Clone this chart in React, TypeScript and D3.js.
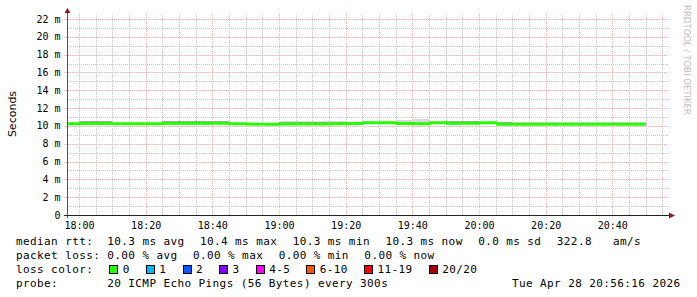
import React from 'react';
import * as d3 from 'd3';

// ---- data ----
const bucketStarts = [
  '17:55', '18:00', '18:05', '18:10', '18:15', '18:20', '18:25', '18:30', '18:35', '18:40',
  '18:45', '18:50', '18:55', '19:00', '19:05', '19:10', '19:15', '19:20', '19:25', '19:30',
  '19:35', '19:40', '19:45', '19:50', '19:55', '20:00', '20:05', '20:10', '20:15', '20:20',
  '20:25', '20:30', '20:35', '20:40', '20:45',
];
const medianMs = [
  10.25, 10.27, 10.27, 10.25, 10.25, 10.25, 10.29, 10.29, 10.29, 10.29,
  10.25, 10.2, 10.2, 10.22, 10.22, 10.22, 10.25, 10.27, 10.36, 10.36,
  10.27, 10.25, 10.36, 10.29, 10.29, 10.36, 10.2, 10.19, 10.19, 10.19,
  10.19, 10.19, 10.19, 10.19, 10.19,
];
const smokeLoMs = [
  10.15, 10.15, 10.15, 10.15, 10.15, 10.15, 10.18, 10.18, 10.18, 10.18,
  10.15, 10.1, 10.1, 10.12, 10.12, 10.12, 10.15, 10.16, 10.25, 10.25,
  10.16, 10.15, 10.25, 10.18, 10.18, 10.25, 10.1, 10.08, 10.08, 10.08,
  10.08, 10.08, 10.08, 10.08, 10.08,
];
const smokeMidMs = [
  10.3, 10.52, 10.52, 10.3, 10.3, 10.3, 10.54, 10.55, 10.52, 10.52,
  10.3, 10.25, 10.25, 10.42, 10.44, 10.44, 10.48, 10.44, 10.44, 10.44,
  10.32, 10.3, 10.44, 10.52, 10.52, 10.44, 10.4, 10.38, 10.38, 10.38,
  10.38, 10.38, 10.38, 10.38, 10.38,
];
const smokeHiMs = [
  10.32, 10.58, 10.58, 10.32, 10.32, 10.32, 10.6, 10.6, 10.57, 10.57,
  10.32, 10.28, 10.28, 10.5, 10.52, 10.52, 10.54, 10.48, 10.48, 10.48,
  10.7, 10.77, 10.46, 10.57, 10.57, 10.46, 10.47, 10.44, 10.44, 10.44,
  10.44, 10.44, 10.44, 10.44, 10.44,
];
const lossPings = new Array(35).fill(0);

const yTickValues = [0, 2, 4, 6, 8, 10, 12, 14, 16, 18, 20, 22];
const xTickLabels = ['18:00', '18:20', '18:40', '19:00', '19:20', '19:40', '20:00', '20:20', '20:40'];
const lossLegendLabels = ['0', '1', '2', '3', '4-5', '6-10', '11-19', '20/20'];
const lossLegendColors = ['#26ff00', '#00b8ff', '#0059ff', '#7e00ff', '#ff00ff', '#ff5500', '#ff0000', '#a10000'];
const lossLegendMin = [0, 1, 2, 3, 4, 6, 11, 20];

const legendRow1 = ['median rtt:  10.3 ms avg', '10.4 ms max', '10.3 ms min', '10.3 ms now', '0.0 ms sd', '322.8   am/s'];
const legendRow2 = ['packet loss: 0.00 % avg', '0.00 % max', '0.00 % min', '0.00 % now'];
const probeLabel = 'probe:';
const probeText = '20 ICMP Echo Pings (56 Bytes) every 300s';
const dateText = 'Tue Apr 28 20:56:16 2026';

// ---- layout ----
const W = 697, H = 297;
const L = 67, R = 667, B = 215, T = 15;
const CH = 7.02; // char advance
const GAP = 15.5;
const COL = 16 + 13 * CH;
const MONO = '"DejaVu Sans Mono", monospace';

const toMin = (s: string) => { const [h, m] = s.split(':').map(Number); return h * 60 + m; };

const x = d3.scaleLinear().domain([17 * 60 + 56.4, 20 * 60 + 56.4]).range([L, R]);
const y = d3.scaleLinear().domain([0, 22.45]).range([B, T]);

function lossColor(p: number) {
  let c = lossLegendColors[0];
  lossLegendMin.forEach((m, i) => { if (p >= m) c = lossLegendColors[i]; });
  return c;
}

export default function App() {
  const minorY = d3.range(1, 23).filter((v) => v % 2 !== 0);
  const majorY = yTickValues.filter((v) => v > 0);
  const minorX = d3.range(toMin('18:05'), 21 * 60, 5).filter((m) => (m - toMin('18:00')) % 20 !== 0 && x(m) <= R);
  const majorX = xTickLabels.map(toMin);

  const buckets = bucketStarts.map((s, i) => {
    const a = Math.max(toMin(s), x.domain()[0]);
    const b = toMin(s) + 5;
    return { x0: x(a), x1: x(b), med: medianMs[i], lo: smokeLoMs[i], mid: smokeMidMs[i], hi: smokeHiMs[i], loss: lossPings[i] };
  });

  const linePts: [number, number][] = [];
  buckets.forEach((b) => { linePts.push([b.x0, y(b.med)]); linePts.push([b.x1, y(b.med)]); });
  const lineGen = d3.line();

  const row1X: number[] = [];
  let cx = 16;
  legendRow1.forEach((t) => { row1X.push(cx); cx += t.length * CH + GAP; });
  const row2X: number[] = [];
  cx = 16;
  legendRow2.forEach((t) => { row2X.push(cx); cx += t.length * CH + GAP; });
  const row3X: number[] = [];
  cx = COL;
  lossLegendLabels.forEach((t) => { row3X.push(cx); cx += 15.4 + t.length * CH + 14.2; });

  const monoStyle = { fontFamily: MONO, fontSize: 11, letterSpacing: 0.4 } as React.CSSProperties;

  return (
    <svg width={W} height={H} style={{ position: 'absolute', left: 0, top: 0, background: '#fff' }}>
      <rect x={0} y={0} width={W} height={H} fill="#fff" />
      {/* grid */}
      <g shapeRendering="crispEdges">
        {minorY.map((v) => (
          <line key={'hy' + v} x1={L} x2={R + 1} y1={Math.round(y(v)) + 0.5} y2={Math.round(y(v)) + 0.5} stroke="#c8c8c8" strokeDasharray="1 1" />
        ))}
        {minorX.map((m) => (
          <line key={'vx' + m} x1={Math.round(x(m)) + 0.5} x2={Math.round(x(m)) + 0.5} y1={B} y2={T - 2} stroke="#c8c8c8" strokeDasharray="1 1" />
        ))}
        {majorY.map((v) => (
          <line key={'my' + v} x1={L - 3} x2={R + 1} y1={Math.round(y(v)) + 0.5} y2={Math.round(y(v)) + 0.5} stroke="#f3b3b3" strokeDasharray="1 1" />
        ))}
        {majorX.map((m) => (
          <line key={'mx' + m} x1={Math.round(x(m)) + 0.5} x2={Math.round(x(m)) + 0.5} y1={B + 3} y2={T - 2} stroke="#f3b3b3" strokeDasharray="1 1" />
        ))}
      </g>
      {/* smoke */}
      <g shapeRendering="crispEdges">
        {buckets.map((b, i) => (
          <rect key={'so' + i} x={b.x0} width={b.x1 - b.x0} y={y(b.hi)} height={y(b.lo) - y(b.hi)} fill="#d8d8d8" />
        ))}
        {buckets.map((b, i) => (
          <rect key={'si' + i} x={b.x0} width={b.x1 - b.x0} y={y(b.mid)} height={y(b.lo) - y(b.mid)} fill="#a8a8a8" />
        ))}
      </g>
      {/* median line */}
      {buckets.map((b, i) => (
        <path key={'ln' + i} d={lineGen(linePts.slice(i * 2, Math.min(i * 2 + 3, linePts.length))) || ''}
          fill="none" stroke={lossColor(b.loss)} strokeWidth={3} />
      ))}
      {/* axes */}
      <g>
        <line x1={L + 0.5} x2={L + 0.5} y1={B + 3} y2={T - 4} stroke="#555" shapeRendering="crispEdges" />
        <line x1={L - 3} x2={R + 3} y1={B + 0.5} y2={B + 0.5} stroke="#222" shapeRendering="crispEdges" />
        <path d={`M${L - 2.5},${T - 2} L${L + 3.5},${T - 2} L${L + 0.5},${T - 7} Z`} fill="#8b1a1a" />
        <path d={`M${R + 2},${B - 2.5} L${R + 2},${B + 3.5} L${R + 8},${B + 0.5} Z`} fill="#8b1a1a" />
      </g>
      {/* y tick labels */}
      {yTickValues.map((v) => (
        <text key={'yl' + v} x={60.5} y={y(v) + 3.5} textAnchor="end" style={{ fontFamily: MONO, fontSize: 10 }} fill="#000">
          {v === 0 ? '0' : `${v} m`}
        </text>
      ))}
      {/* x tick labels */}
      {majorX.map((m, i) => (
        <text key={'xl' + m} x={x(m) + 0.5} y={229} textAnchor="middle" style={{ fontFamily: MONO, fontSize: 10 }} fill="#000">
          {xTickLabels[i]}
        </text>
      ))}
      {/* y title */}
      <text transform="translate(16,114) rotate(-90)" textAnchor="middle" style={{ fontFamily: '"DejaVu Sans", sans-serif', fontSize: 11 }} fill="#000">Seconds</text>
      {/* watermark */}
      <text transform="translate(684,5) rotate(90)" style={{ fontFamily: '"DejaVu Sans", sans-serif', fontSize: 8.5 }} fill="#bdbdbd" textLength={110} lengthAdjust="spacingAndGlyphs">RRDTOOL / TOBI OETIKER</text>
      {/* legend */}
      <g style={monoStyle} fill="#000">
        {legendRow1.map((t, i) => (
          <text key={'r1' + i} x={row1X[i]} y={245} xmlSpace="preserve" style={{ whiteSpace: 'pre' }}>{t}</text>
        ))}
        {legendRow2.map((t, i) => (
          <text key={'r2' + i} x={row2X[i]} y={259} xmlSpace="preserve" style={{ whiteSpace: 'pre' }}>{t}</text>
        ))}
        <text x={16} y={273}>loss color:</text>
        {lossLegendLabels.map((t, i) => (
          <g key={'r3' + i}>
            <rect x={Math.round(row3X[i] + 2) + 0.5} y={265.5} width={8} height={8} fill={lossLegendColors[i]} stroke="#000" strokeWidth={1} />
            <text x={row3X[i] + 15.4} y={273}>{t}</text>
          </g>
        ))}
        <text x={16} y={287}>{probeLabel}</text>
        <text x={COL} y={287}>{probeText}</text>
        <text x={680.5} y={287} textAnchor="end">{dateText}</text>
      </g>
    </svg>
  );
}
